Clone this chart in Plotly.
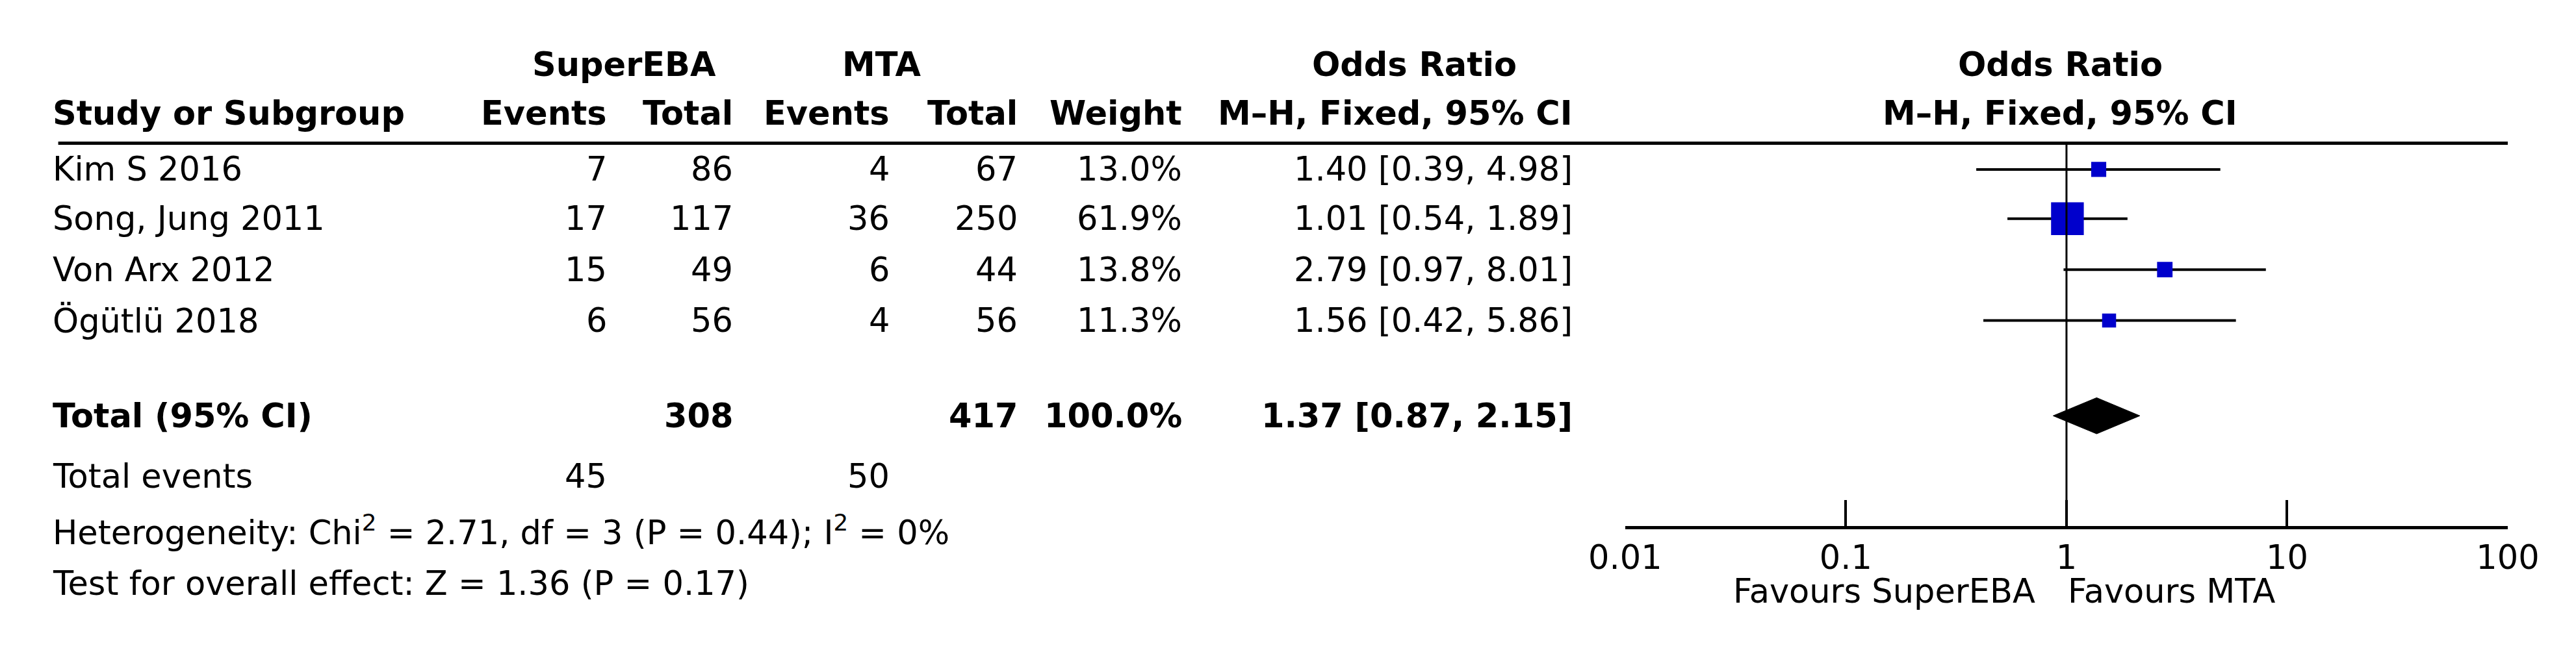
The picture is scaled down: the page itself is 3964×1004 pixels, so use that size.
import plotly.graph_objects as go
import numpy as np

studies = ["Kim S 2016", "Song, Jung 2011", "Von Arx 2012", "Ögütlü 2018"]
e_events = [7, 17, 15, 6]
e_total = [86, 117, 49, 56]
c_events = [4, 36, 6, 4]
c_total = [67, 250, 44, 56]
weights = [13.0, 61.9, 13.8, 11.3]
or_est = [1.40, 1.01, 2.79, 1.56]
or_lo = [0.39, 0.54, 0.97, 0.42]
or_hi = [4.98, 1.89, 8.01, 5.86]
tot_e, tot_c = 308, 417
tot_or, tot_lo, tot_hi = 1.37, 0.87, 2.15
ev_e, ev_c = 45, 50
ticks = [0.01, 0.1, 1, 10, 100]
tick_labels = ["0.01", "0.1", "1", "10", "100"]

W, H = 3964, 1004
FONT = "DejaVu Sans"
FS = 51

row_y = [100, 130, 161, 192]
tot_y = 250

fig = go.Figure()
for i in range(4):
    fig.add_trace(go.Scatter(x=[or_lo[i], or_hi[i]], y=[row_y[i]] * 2, mode="lines",
                             line=dict(color="black", width=4), showlegend=False, hoverinfo="skip"))
fig.add_trace(go.Scatter(x=or_est, y=row_y, mode="markers", showlegend=False, opacity=1,
                         marker=dict(symbol="square", color="#0000CC", opacity=1,
                                     size=[6.4 * np.sqrt(w) for w in weights], line=dict(width=0))))
fig.add_trace(go.Scatter(x=[tot_lo, tot_or, tot_hi, tot_or, tot_lo],
                         y=[tot_y, tot_y - 11, tot_y, tot_y + 11, tot_y], mode="lines",
                         fill="toself", fillcolor="black", line=dict(color="black", width=1),
                         showlegend=False))

ann = []
SHIFT = {"left": -55, "right": -30, "center": 0}
def t(x, y, s, anchor="left", bold=False):
    ann.append(dict(x=x / 1568.0, y=y, xref="paper", yref="y", text=("<b>%s</b>" % s) if bold else s,
                    showarrow=False, xanchor=anchor, yanchor="middle", xshift=SHIFT[anchor],
                    font=dict(family=FONT, size=FS, color="black")))

t(364, 36, "SuperEBA", "center", True)
t(525, 36, "MTA", "center", True)
t(858, 36, "Odds Ratio", "center", True)
t(1262, 36, "Odds Ratio", "center", True)
t(28, 66, "Study or Subgroup", "left", True)
t(366, 66, "Events", "right", True)
t(445, 66, "Total", "right", True)
t(543, 66, "Events", "right", True)
t(623, 66, "Total", "right", True)
t(726, 66, "Weight", "right", True)
t(970, 66, "M–H, Fixed, 95% CI", "right", True)
t(1262, 66, "M–H, Fixed, 95% CI", "center", True)

for i in range(4):
    y = row_y[i]
    t(28, y, studies[i])
    t(366, y, str(e_events[i]), "right")
    t(445, y, str(e_total[i]), "right")
    t(543, y, str(c_events[i]), "right")
    t(623, y, str(c_total[i]), "right")
    t(726, y, "%.1f%%" % weights[i], "right")
    t(970, y, "%.2f [%.2f, %.2f]" % (or_est[i], or_lo[i], or_hi[i]), "right")

t(28, tot_y, "Total (95% CI)", "left", True)
t(445, tot_y, str(tot_e), "right", True)
t(623, tot_y, str(tot_c), "right", True)
t(726, tot_y, "%.1f%%" % sum(weights), "right", True)
t(970, tot_y, "%.2f [%.2f, %.2f]" % (tot_or, tot_lo, tot_hi), "right", True)
t(28, 287, "Total events")
t(366, 287, str(ev_e), "right")
t(543, 287, str(ev_c), "right")
t(28, 320, "Heterogeneity: Chi<sup>2</sup> = 2.71, df = 3 (P = 0.44); I<sup>2</sup> = 0%")
t(28, 352, "Test for overall effect: Z = 1.36 (P = 0.17)")
t(1152, 357, "Favours SuperEBA", "center")
t(1332, 357, "Favours MTA", "center")

shapes = [
    dict(type="line", xref="paper", yref="y", x0=10 / 1568, x1=1542 / 1568, y0=84, y1=84,
         line=dict(color="black", width=5)),
    dict(type="line", xref="x", yref="y", x0=1, x1=1, y0=84, y1=318,
         line=dict(color="black", width=3)),
]

fig.update_layout(
    width=W, height=H, margin=dict(l=0, r=0, t=0, b=0),
    paper_bgcolor="white", plot_bgcolor="white",
    annotations=ann, shapes=shapes,
    xaxis=dict(type="log", domain=[990 / 1568, 1542 / 1568], range=[-2, 2],
               anchor="free", position=1 - 318 / 397.0, tickvals=ticks, ticktext=tick_labels,
               ticks="inside", ticklen=40, tickwidth=4, tickcolor="black",
               showline=True, linecolor="black", linewidth=5, showgrid=False, zeroline=False,
               tickfont=dict(family=FONT, size=FS, color="black")),
    yaxis=dict(range=[397, 0], domain=[0, 1], visible=False),
)
fig.write_html("out.html")
